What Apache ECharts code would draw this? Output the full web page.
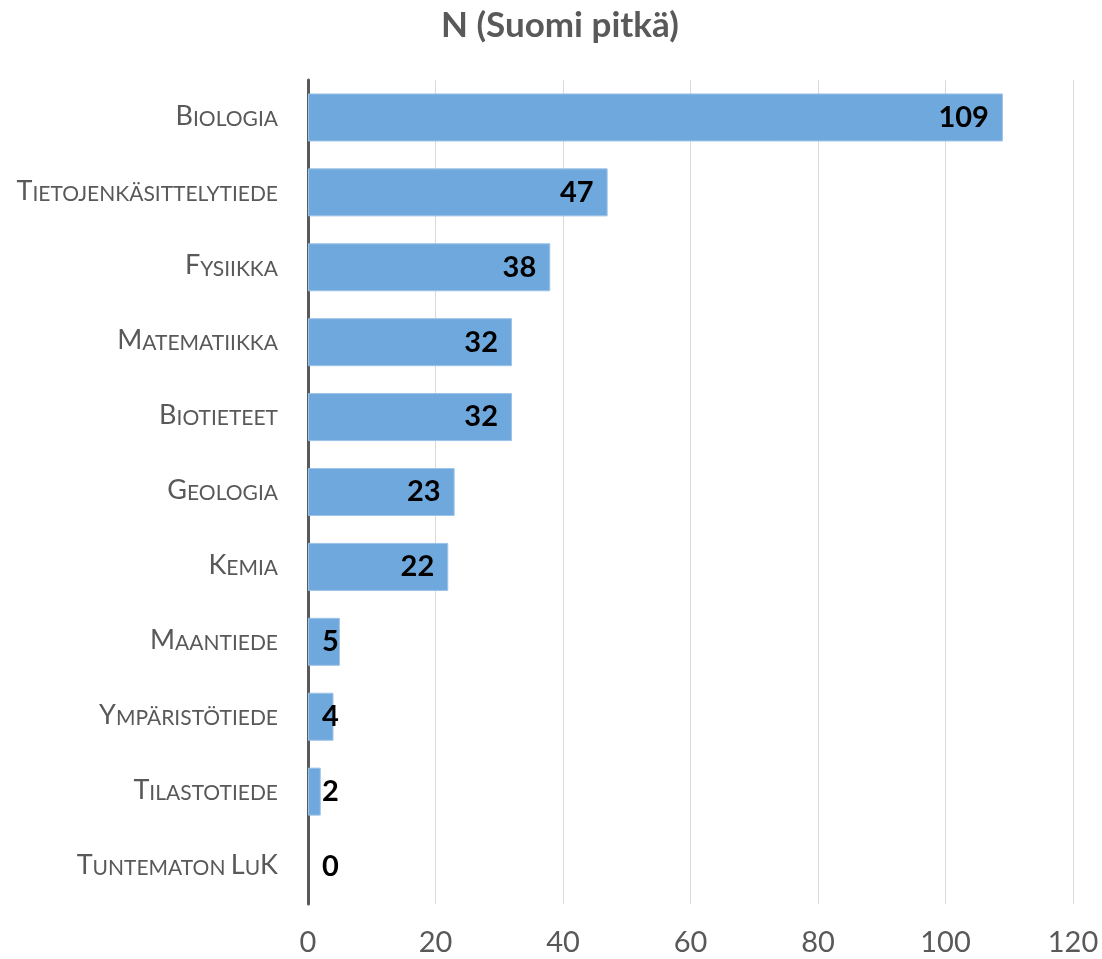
<!DOCTYPE html>
<html>
<head>
<meta charset="utf-8">
<script src="https://cdn.jsdelivr.net/npm/echarts@6/dist/echarts.min.js"></script>
<style>
  html, body { margin: 0; padding: 0; background: #fff; }
  #chart { width: 1102px; height: 959px; }
</style>
</head>
<body>
<div id="chart"></div>
<script>
const categories = ['Biologia', 'Tietojenkäsittelytiede', 'Fysiikka', 'Matematiikka', 'Biotieteet',
  'Geologia', 'Kemia', 'Maantiede', 'Ympäristötiede', 'Tilastotiede', 'Tuntematon LuK'];
const values = [109, 47, 38, 32, 32, 23, 22, 5, 4, 2, 0];
const xTicks = [0, 20, 40, 60, 80, 100, 120];

// small caps: capitals stay big, lowercase become small capitals
function smallCaps(s) {
  let out = '';
  let run = '', runBig = null;
  for (const ch of s) {
    const big = ch !== ch.toLowerCase();
    if (runBig !== null && big !== runBig) {
      out += '{' + (runBig ? 'b' : 's') + '|' + run + '}';
      run = '';
    }
    runBig = big;
    run += ch.toUpperCase();
  }
  if (run) out += '{' + (runBig ? 'b' : 's') + '|' + run + '}';
  return out;
}

const chart = echarts.init(document.getElementById('chart'));
const option = {
  animation: false,
  title: {
    text: 'N (Suomi pitkä)',
    left: 441,
    top: 3,
    padding: [5, 0, 5, 0],
    textStyle: { fontFamily: 'Lato', fontSize: 35, fontWeight: 'bold', color: '#595959' }
  },
  grid: { left: 308, right: 29, top: 80, bottom: 55, containLabel: false },
  xAxis: {
    type: 'value',
    min: 0, max: 120, interval: 20,
    axisLine: { show: false },
    axisTick: { show: false },
    splitLine: { lineStyle: { color: '#d9d9d9', width: 1 } },
    axisLabel: { fontFamily: 'Lato', fontSize: 29, color: '#595959', margin: 24,
      formatter: v => xTicks.includes(v) ? String(v) : '' }
  },
  yAxis: {
    type: 'category',
    inverse: true,
    data: categories,
    axisLine: { lineStyle: { color: '#595959', width: 3 } },
    axisTick: { show: false },
    axisLabel: {
      margin: 30,
      padding: [0, 0, 8, 0],
      formatter: v => smallCaps(v),
      rich: {
        b: { fontFamily: 'Lato', fontSize: 27, color: '#595959', verticalAlign: 'bottom', lineHeight: 32 },
        s: { fontFamily: 'Lato', fontSize: 21, color: '#595959', verticalAlign: 'bottom', lineHeight: 32 }
      }
    }
  },
  series: [{
    type: 'bar',
    data: values.map(v => ({
      value: v,
      itemStyle: v === 0 ? { borderWidth: 0 } : undefined,
      label: v < 10 ? { position: 'insideLeft', distance: 14 } : { position: 'insideRight', distance: 14 }
    })),
    barWidth: 48,
    itemStyle: { color: '#6fa8dc', borderColor: '#9cc3e8', borderWidth: 1 },
    label: {
      show: true,
      fontFamily: 'Lato',
      fontSize: 29,
      fontWeight: 'bold',
      color: '#000'
    }
  }]
};
chart.setOption(option);
</script>
</body>
</html>
